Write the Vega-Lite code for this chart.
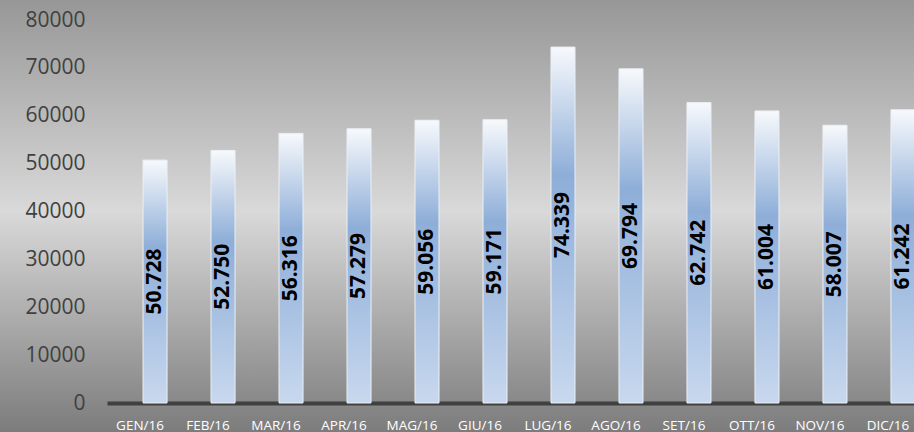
{
  "$schema": "https://vega.github.io/schema/vega-lite/v6.json",
  "width": 914,
  "height": 432,
  "autosize": {"type": "none"},
  "padding": 0,
  "background": "#999999",
  "config": {
    "font": "Open Sans",
    "locale": {"number": {"decimal": ",", "thousands": ".", "grouping": [3], "currency": ["", " €"]}},
    "view": {
      "stroke": null,
      "fill": {
        "gradient": "linear", "x1": 0, "y1": 0, "x2": 0, "y2": 1,
        "stops": [
          {"offset": 0, "color": "#979797"},
          {"offset": 0.49, "color": "#d9d9d9"},
          {"offset": 1, "color": "#7c7c7c"}
        ]
      }
    }
  },
  "data": {
    "values": [
      {"m": "GEN/16", "v": 50728},
      {"m": "FEB/16", "v": 52750},
      {"m": "MAR/16", "v": 56316},
      {"m": "APR/16", "v": 57279},
      {"m": "MAG/16", "v": 59056},
      {"m": "GIU/16", "v": 59171},
      {"m": "LUG/16", "v": 74339},
      {"m": "AGO/16", "v": 69794},
      {"m": "SET/16", "v": 62742},
      {"m": "OTT/16", "v": 61004},
      {"m": "NOV/16", "v": 58007},
      {"m": "DIC/16", "v": 61242}
    ]
  },
  "encoding": {
    "x": {
      "field": "m",
      "type": "nominal",
      "sort": null,
      "scale": {"range": [107, 951], "paddingInner": 0.647, "paddingOuter": 0.53},
      "axis": {
        "title": null,
        "orient": "bottom",
        "offset": -29,
        "domainColor": "#404040",
        "domainWidth": 4,
        "ticks": false,
        "grid": false,
        "labelAngle": 0,
        "labelColor": "#ffffff",
        "labelFontSize": 13.5,
        "labelPadding": 15,
        "labelOffset": -15
      }
    }
  },
  "layer": [
    {
      "mark": {
        "type": "bar",
        "stroke": "#eaf0f7",
        "strokeWidth": 1,
        "color": {
          "gradient": "linear", "x1": 0, "y1": 0, "x2": 0, "y2": 1,
          "stops": [
            {"offset": 0, "color": "#f7f9fc"},
            {"offset": 0.36, "color": "#8eaed8"},
            {"offset": 1, "color": "#c8d8ee"}
          ]
        }
      },
      "encoding": {
        "y": {
          "field": "v",
          "type": "quantitative",
          "scale": {"domain": [0, 80000], "range": [403, 20], "nice": false},
          "axis": {
            "title": null,
            "offset": -107,
            "domain": false,
            "ticks": false,
            "grid": false,
            "values": [0, 10000, 20000, 30000, 40000, 50000, 60000, 70000, 80000],
            "format": "d",
            "labelFontSize": 21,
            "labelColor": "#404040",
            "labelPadding": 22
          }
        }
      }
    },
    {
      "mark": {
        "type": "text",
        "angle": 270,
        "align": "center",
        "baseline": "middle",
        "fontWeight": "bold",
        "fontSize": 21,
        "color": "#000000"
      },
      "encoding": {
        "y": {
          "field": "v",
          "type": "quantitative",
          "scale": {"domain": [0, 160000], "range": [403, 20], "nice": false},
          "axis": null
        },
        "text": {"field": "v", "type": "quantitative", "format": ",d"}
      }
    }
  ],
  "resolve": {"scale": {"y": "independent"}}
}
